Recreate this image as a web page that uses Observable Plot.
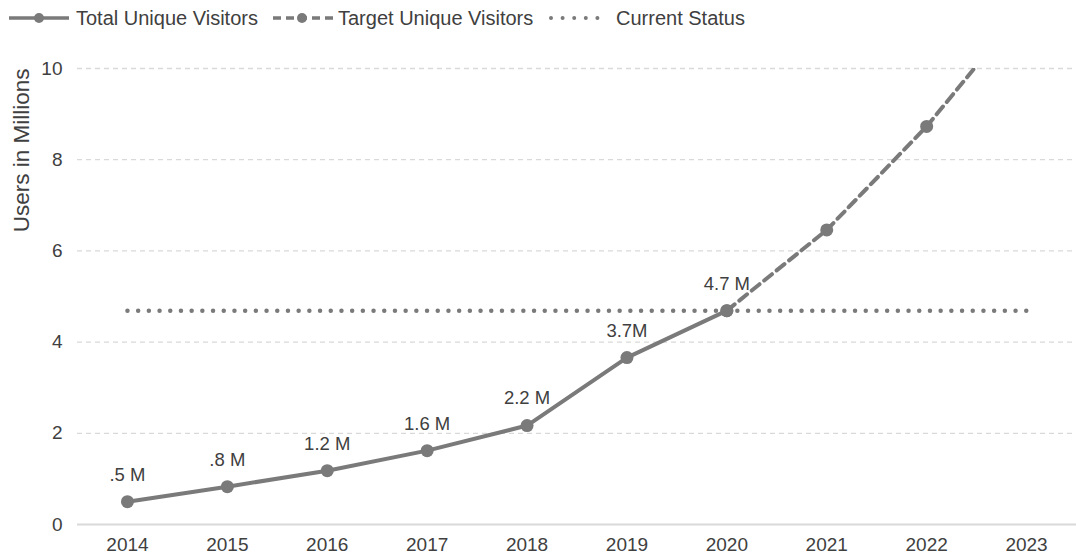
<!DOCTYPE html>
<html>
<head>
<meta charset="utf-8">
<script src="https://cdn.jsdelivr.net/npm/d3@7"></script>
<script src="https://cdn.jsdelivr.net/npm/@observablehq/plot@0.6"></script>
<style>
  html, body { margin: 0; padding: 0; background: #fff; }
  body { width: 1076px; height: 560px; overflow: hidden; font-family: "Liberation Sans", Arial, sans-serif; color: #404040; }
  #legend { position: relative; height: 40px; }
  .item { position: absolute; top: 6px; height: 24px; display: flex; align-items: center; font-size: 20px; white-space: nowrap; }
  .item svg { display: block; }
  .item span { position: relative; }
</style>
</head>
<body>
<div id="legend"></div>
<div id="chart"></div>
<script>
const years = [2014, 2015, 2016, 2017, 2018, 2019, 2020, 2021, 2022, 2023];
const totalYears = [2014, 2015, 2016, 2017, 2018, 2019, 2020];
const totalValues = [0.5, 0.83, 1.18, 1.62, 2.17, 3.66, 4.69];
const totalLabels = [".5 M", ".8 M", "1.2 M", "1.6 M", "2.2 M", "3.7M", "4.7 M"];
const targetYears = [2020, 2021, 2022, 2023];
const targetValues = [4.69, 6.46, 8.73, 11.4];
const currentStatus = 4.69;
const yTicks = [0, 2, 4, 6, 8, 10];
const seriesNames = ["Total Unique Visitors", "Target Unique Visitors", "Current Status"];
const yTitle = "Users in Millions";

const gray = "#7a7a7a";
const textColor = "#404040";

const total = totalYears.map((y, i) => ({year: y, value: totalValues[i], label: totalLabels[i]}));
const target = targetYears.map((y, i) => ({year: y, value: targetValues[i]}));
const status = years.map(y => ({year: y, value: currentStatus}));

// Legend
const legend = document.getElementById("legend");
const legendLeft = [8, 272, 547];
const samples = [
  `<svg width="68" height="16"><line x1="1" x2="61" y1="8" y2="8" stroke="${gray}" stroke-width="3.5"/><circle cx="31" cy="8" r="5" fill="${gray}"/></svg>`,
  `<svg width="66" height="16"><line x1="1" x2="61" y1="8" y2="8" stroke="${gray}" stroke-width="3.5" stroke-dasharray="8,5"/><circle cx="30" cy="8" r="5" fill="${gray}"/></svg>`,
  `<svg width="69" height="16"><line x1="4" x2="62" y1="8" y2="8" stroke="${gray}" stroke-width="4" stroke-linecap="round" stroke-dasharray="0,11.6"/></svg>`
];
seriesNames.forEach((name, i) => {
  const d = document.createElement("div");
  d.className = "item";
  d.style.left = legendLeft[i] + "px";
  d.innerHTML = samples[i] + `<span>${name}</span>`;
  legend.appendChild(d);
});

const chart = Plot.plot({
  width: 1076,
  height: 520,
  marginLeft: 77,
  marginRight: 0,
  marginTop: 28,
  marginBottom: 36,
  style: {fontFamily: "Liberation Sans, Arial, sans-serif", fontSize: "19px", color: textColor, background: "#fff"},
  x: {type: "point", domain: years, padding: 0.5, round: false},
  y: {domain: [0, 10]},
  marks: [
    Plot.gridY(yTicks.filter(d => d > 0), {stroke: "#d9d9d9", strokeOpacity: 1, strokeWidth: 1.3, strokeDasharray: "5,4"}),
    Plot.ruleY([0], {stroke: "#d9d9d9", strokeWidth: 2}),
    Plot.axisY({ticks: yTicks, tickSize: 0, tickPadding: 15, label: null, fill: textColor, fontSize: 19}),
    Plot.axisX({tickSize: 0, tickPadding: 13, label: null, tickFormat: d => String(d), fill: textColor, fontSize: 19}),
    Plot.text([yTitle], {text: d => d, frameAnchor: "top-left", rotate: -90, textAnchor: "end", dx: -64, fill: textColor, fontSize: 22.5}),
    Plot.line(status, {x: "year", y: "value", stroke: gray, strokeWidth: 4.5, strokeLinecap: "round", strokeDasharray: "0,10.7"}),
    Plot.line(target, {x: "year", y: "value", stroke: gray, strokeWidth: 4, strokeDasharray: "10,6", clip: true}),
    Plot.line(total, {x: "year", y: "value", stroke: gray, strokeWidth: 4}),
    Plot.dot(target.filter(d => d.value <= 10), {x: "year", y: "value", r: 6.5, fill: gray}),
    Plot.dot(total, {x: "year", y: "value", r: 6.5, fill: gray}),
    Plot.text(total, {x: "year", y: "value", text: "label", dy: -27, fill: textColor, fontSize: 18.5})
  ]
});
document.getElementById("chart").appendChild(chart);
</script>
</body>
</html>
